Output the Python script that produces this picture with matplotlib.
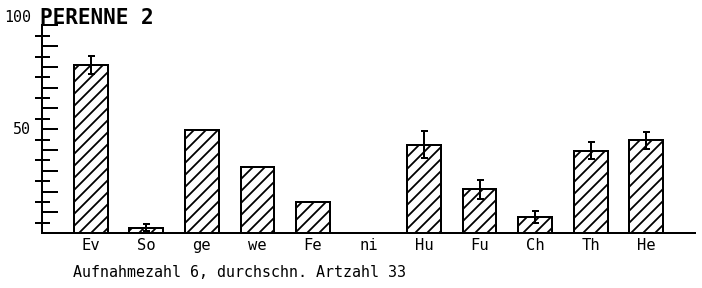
import numpy as np
import matplotlib
matplotlib.use('Agg')
import matplotlib.pyplot as plt

# data
cats = ['Ev', 'So', 'ge', 'we', 'Fe', 'ni', 'Hu', 'Fu', 'Ch', 'Th', 'He']
vals = [81, 2.5, 49.5, 32, 15, 0, 42.5, 21, 7.7, 39.7, 44.6]
errs = [4.5, 1.7, 0, 0, 0, 0, 6.5, 4.6, 2.8, 4, 4]
title = 'PERENNE 2'
footer = 'Aufnahmezahl 6, durchschn. Artzahl 33'

plt.rcParams['font.family'] = 'DejaVu Sans Mono'
plt.rcParams['hatch.linewidth'] = 1.8

fig = plt.figure(figsize=(702/72, 288/72), dpi=72)
ax = fig.add_axes([42/702, 1-233/288, (695-42)/702, (233-25.5)/288])

x = np.arange(len(cats))
ax.bar(x, vals, width=0.61, facecolor='white', edgecolor='black',
       linewidth=2, hatch='//')

# error bars only where there is one
for xi, v, e in zip(x, vals, errs):
    if e > 0:
        ax.errorbar(xi, v, yerr=e, fmt='none', ecolor='black',
                    elinewidth=2, capsize=3.5, capthick=2)

ax.set_xlim(-0.88, 10.88)
ax.set_ylim(0, 100)

for s in ['top', 'right']:
    ax.spines[s].set_visible(False)
ax.spines['left'].set_linewidth(2)
ax.spines['bottom'].set_linewidth(2)

ax.set_xticks(x)
ax.set_xticklabels(cats, fontsize=15.5)
ax.tick_params(axis='x', length=0, pad=5)

ax.set_yticks(np.arange(10, 101, 10))
ax.set_yticks(np.arange(5, 100, 10), minor=True)
ax.set_yticklabels([])
ax.tick_params(axis='y', which='major', direction='in', length=16, width=2)
ax.tick_params(axis='y', which='minor', direction='inout', length=15, width=2)

# only 50 and 100 are labelled
ax.annotate('50', xy=(0, 50), xycoords=('axes fraction', 'data'),
            xytext=(-11, 0), textcoords='offset points',
            ha='right', va='center', fontsize=15)
ax.annotate('100', xy=(0, 100), xycoords=('axes fraction', 'data'),
            xytext=(-11, 8), textcoords='offset points',
            ha='right', va='center', fontsize=15)

fig.text(40/702, 1-24/288, title, fontsize=21, fontweight='bold',
         ha='left', va='baseline')
fig.text(73/702, 1-277/288, footer, fontsize=15, ha='left', va='baseline')

fig.savefig('out.png', dpi=72)
